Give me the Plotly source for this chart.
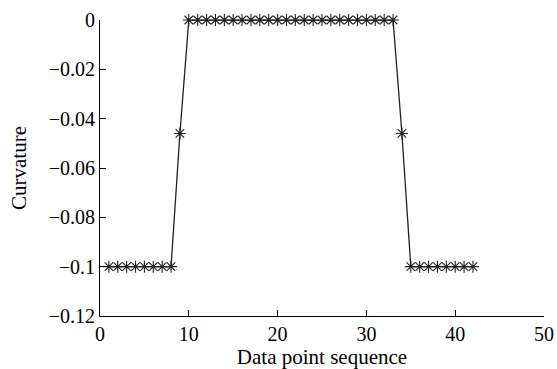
import plotly.graph_objects as go

x_vals = list(range(1, 43))
y_vals = ([-0.1] * 8) + [-0.046] + ([0.0] * 24) + [-0.046] + ([-0.1] * 8)

x_ticks = [0, 10, 20, 30, 40, 50]
y_ticks = [0, -0.02, -0.04, -0.06, -0.08, -0.1, -0.12]
y_tick_text = ["0", "\u22120.02", "\u22120.04", "\u22120.06", "\u22120.08", "\u22120.1", "\u22120.12"]

fig = go.Figure()
fig.add_trace(go.Scatter(
    x=x_vals, y=y_vals, mode="lines+markers",
    line=dict(color="#222222", width=1.3),
    marker=dict(symbol="asterisk-open", size=10, color="#222222", line=dict(width=1.1, color="#222222")),
    cliponaxis=False,
))

tick_font = dict(family="Liberation Serif, Times New Roman, serif", size=20, color="black")
title_font = dict(family="Liberation Serif, Times New Roman, serif", size=21, color="black")
fig.update_layout(
    width=557, height=369,
    margin=dict(l=100, r=13, t=20, b=53),
    paper_bgcolor="white", plot_bgcolor="white",
    showlegend=False,
    font=tick_font,
)
fig.update_xaxes(
    range=[0, 50], tickvals=x_ticks, ticks="inside", ticklen=6, tickcolor="black",
    showline=True, linecolor="black", linewidth=1, showgrid=False, zeroline=False,
    title=dict(text="Data point sequence", font=title_font, standoff=6),
    tickfont=tick_font, mirror=False, automargin=False,
)
fig.update_yaxes(
    range=[-0.12, 0], tickvals=y_ticks, ticktext=y_tick_text, ticks="inside", ticklen=6, tickcolor="black",
    showline=True, linecolor="black", linewidth=1, showgrid=False, zeroline=False,
    title=dict(text="Curvature", font=title_font, standoff=16),
    tickfont=tick_font, mirror=False, automargin=False,
)
fig.write_html("out.html")
